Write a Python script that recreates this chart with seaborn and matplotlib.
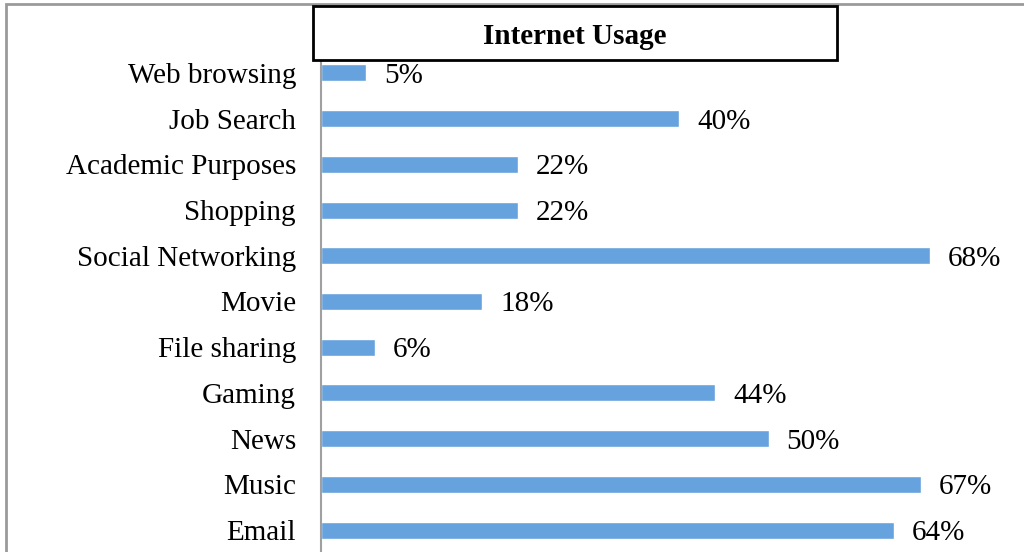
import matplotlib
matplotlib.use("Agg")
import matplotlib.pyplot as plt
from matplotlib.patches import Rectangle
import seaborn as sns
import pandas as pd

categories = ["Web browsing", "Job Search", "Academic Purposes", "Shopping",
              "Social Networking", "Movie", "File sharing", "Gaming", "News",
              "Music", "Email"]
values = [5, 40, 22, 22, 68, 18, 6, 44, 50, 67, 64]

df = pd.DataFrame({"category": categories, "value": values})

sns.set_style("white")
plt.rcParams["font.family"] = ["Liberation Serif", "DejaVu Serif"]
plt.rcParams["text.color"] = "black"

W, H = 1024, 552
fig = plt.figure(figsize=(W / 100, H / 100), dpi=100)
# axes in pixel terms: left 321, right 1024, top 50, bottom 553
ax = fig.add_axes([321 / W, (H - 553) / H, (1024 - 321) / W, (553 - 50) / H])

sns.barplot(data=df, x="value", y="category", color="#65A2DE", width=0.37,
            saturation=1, ax=ax)

ax.set_xlim(0, 78.5)
ax.set_xlabel("")
ax.set_ylabel("")
ax.set_xticks([])
ax.tick_params(axis="y", length=0, pad=18, labelsize=21, labelcolor="black")
for lbl in ax.get_yticklabels():
    lbl.set_verticalalignment("center_baseline")
for s in ["top", "right", "bottom"]:
    ax.spines[s].set_visible(False)
ax.spines["left"].set_color("#A0A0A0")
ax.spines["left"].set_linewidth(1.5)

for i, v in enumerate(values):
    ax.text(v + 2.0, i, f"{v}%", va="center_baseline", ha="left", fontsize=21,
            color="black")

# outer frame (bottom and right edges fall outside the picture)
fig.patches.append(Rectangle((6 / W, -0.05), 1.2, (H - 4) / H + 0.05,
                             transform=fig.transFigure, fill=False,
                             edgecolor="#9A9A9A", linewidth=2))
# title box
fig.patches.append(Rectangle((313 / W, (H - 60) / H), (837 - 313) / W, 54 / H,
                             transform=fig.transFigure, facecolor="white",
                             edgecolor="black", linewidth=2, zorder=5))
fig.text(575 / W, (H - 34) / H, "Internet Usage", ha="center",
         va="center_baseline", fontsize=21, fontweight="bold", color="black",
         zorder=6)

fig.savefig("out.png", dpi=100)
